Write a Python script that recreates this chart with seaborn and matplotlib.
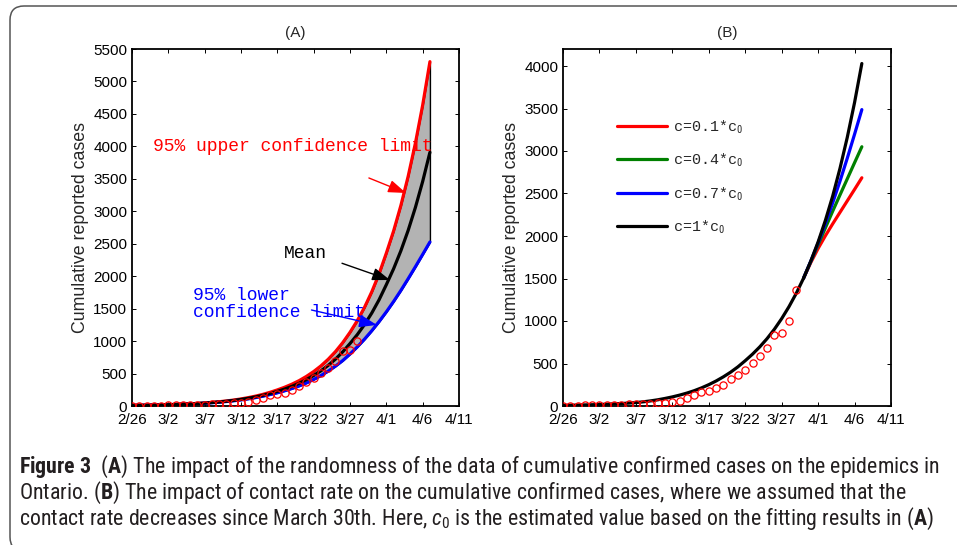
import matplotlib
matplotlib.use("Agg")
import matplotlib.pyplot as plt
from matplotlib import font_manager
from matplotlib.patches import FancyBboxPatch
from matplotlib.transforms import IdentityTransform
import pandas as pd
import seaborn as sns

W, H = 957, 545

# x axis: days since 2/26
tick_days = [0, 5, 10, 15, 20, 25, 30, 35, 40, 45]
tick_labels = ["2/26", "3/2", "3/7", "3/12", "3/17", "3/22", "3/27", "4/1", "4/6", "4/11"]

# reported cumulative cases (red circles), days 0..32
obs_cases = [4, 4, 5, 6, 7, 9, 11, 13, 15, 18, 20, 24, 28, 34, 41, 49, 61, 93, 130, 163,
             179, 207, 252, 313, 370, 427, 504, 593, 688, 840, 862, 1000, 1365]

# panel A: model curves, days 0..41
a_mean = [9, 11, 12, 15, 17, 20, 24, 28, 33, 38, 45, 53, 62, 73, 86, 101, 119, 140, 164, 193,
          225, 261, 302, 350, 406, 470, 542, 626, 722, 834, 962, 1099, 1255, 1433, 1636, 1869,
          2114, 2391, 2704, 3059, 3459, 3909]
a_upper = [9, 11, 12, 15, 17, 20, 25, 29, 34, 40, 47, 56, 66, 78, 92, 109, 129, 152, 179, 211,
           248, 289, 336, 391, 456, 531, 618, 720, 838, 976, 1135, 1314, 1521, 1760, 2035, 2355,
           2697, 3089, 3537, 4050, 4635, 5305]
a_lower = [9, 11, 12, 15, 17, 20, 23, 27, 32, 37, 43, 50, 59, 69, 80, 94, 110, 129, 151, 176,
           203, 234, 269, 309, 355, 409, 469, 537, 614, 700, 800, 910, 1030, 1160, 1300, 1450,
           1610, 1780, 1960, 2145, 2335, 2527]

# panel B: contact rate scenarios
b_base = [8, 9, 11, 13, 15, 18, 21, 25, 29, 34, 40, 49, 60, 73, 89, 107, 128, 152, 180, 213,
          251, 294, 343, 398, 461, 533, 610, 696, 793, 903, 1028, 1168, 1325, 1503, 1705, 1930,
          2184, 2470, 2795, 3160, 3570, 4029]
branch_days = [33, 34, 35, 36, 37, 38, 39, 40, 41]
b_c01 = [1503, 1688, 1853, 2003, 2143, 2278, 2413, 2548, 2685]
b_c04 = [1503, 1700, 1898, 2095, 2292, 2483, 2672, 2862, 3050]
b_c07 = [1503, 1705, 1918, 2148, 2390, 2645, 2915, 3197, 3487]

sns.set_theme(style="ticks")

# caption font: prefer a condensed sans if one is installed
fonts = font_manager.fontManager.ttflist
names = {f.name for f in fonts}
cap_font, cap_stretch = "Liberation Sans", "normal"
for cand in ["Noto Sans Condensed", "Roboto Condensed", "Open Sans Condensed",
             "Liberation Sans Narrow"]:
    if cand in names:
        cap_font = cand
        break
else:
    for fam in ["Noto Sans", "Open Sans", "DejaVu Sans"]:
        if any(f.name == fam and f.stretch == "condensed" for f in fonts):
            cap_font, cap_stretch = fam, "condensed"
            break

plt.rcParams["font.family"] = ["Liberation Sans", "DejaVu Sans"]
plt.rcParams.update({
    "xtick.direction": "in", "ytick.direction": "in",
    "xtick.top": True, "ytick.right": True,
    "xtick.major.size": 3, "ytick.major.size": 3,
    "xtick.major.width": 0.7, "ytick.major.width": 0.7,
    "axes.linewidth": 1.3, "axes.edgecolor": "black",
    "xtick.color": "black", "ytick.color": "black",
    "mathtext.fontset": "custom",
    "mathtext.rm": cap_font,
    "mathtext.it": cap_font + ":italic",
    "mathtext.bf": cap_font + ":bold",
})

fig = plt.figure(figsize=(W / 100, H / 100), dpi=100)
axA = fig.add_axes([132 / W, 1 - 406 / H, 327 / W, 357 / H])
axB = fig.add_axes([563 / W, 1 - 406 / H, 328 / W, 357 / H])

days = list(range(len(a_mean)))
obs_days = list(range(len(obs_cases)))
lw = 2.3
mono = "Liberation Mono"

# ---- panel A
axA.fill_between(days, a_lower, a_upper, facecolor="#b3b3b3", edgecolor="black", lw=1, zorder=1)
sns.lineplot(x=days, y=a_upper, color="#ff0000", lw=lw, ax=axA, zorder=2)
sns.lineplot(x=days, y=a_lower, color="#0000ff", lw=lw, ax=axA, zorder=2)
sns.lineplot(x=days, y=a_mean, color="black", lw=lw, ax=axA, zorder=3)
sns.lineplot(x=obs_days[:32], y=obs_cases[:32], marker="o", ls="none", ms=5.2,
             mfc="none", mec="#ff0000", mew=0.9, color="#ff0000", ax=axA, zorder=4)

arrow = dict(arrowstyle="-|>,head_length=0.9,head_width=0.32", lw=1, shrinkA=0, shrinkB=0)
axA.text(2.9, 4000, "95% upper confidence limit", color="#ff0000", family=mono,
         fontsize=13, va="center", ha="left")
axA.annotate("", xy=(37.7, 3282), xytext=(32.6, 3513),
             arrowprops=dict(arrow, color="#ff0000"))
axA.text(23.8, 2342, "Mean", color="black", family=mono, fontsize=13, va="center", ha="center")
axA.annotate("", xy=(35.5, 1941), xytext=(28.9, 2199), arrowprops=dict(arrow, color="black"))
axA.text(8.4, 1564, "95% lower\nconfidence limit", color="#0000ff", family=mono,
         fontsize=13, va="center", ha="left", linespacing=1.0)
axA.annotate("", xy=(33.7, 1248), xytext=(24.7, 1479), arrowprops=dict(arrow, color="#0000ff"))

axA.set_ylim(0, 5500)
axA.set_yticks(range(0, 5501, 500))
axA.set_title("(A)", fontsize=11, pad=9)

# ---- panel B
sns.lineplot(x=branch_days, y=b_c01, color="#ff0000", lw=lw, ax=axB, label="c=0.1*c$_0$")
sns.lineplot(x=branch_days, y=b_c04, color="#008000", lw=lw, ax=axB, label="c=0.4*c$_0$")
sns.lineplot(x=branch_days, y=b_c07, color="#0000ff", lw=lw, ax=axB, label="c=0.7*c$_0$")
sns.lineplot(x=days, y=b_base, color="black", lw=lw, ax=axB, label="c=1*c$_0$")
sns.lineplot(x=obs_days, y=obs_cases, marker="o", ls="none", ms=5.2,
             mfc="none", mec="#ff0000", mew=0.9, color="#ff0000", ax=axB, zorder=4)
axB.legend(loc="upper left", bbox_to_anchor=(0.165, 0.806), frameon=False, borderpad=0,
           borderaxespad=0, handlelength=3.33, handletextpad=0.4, labelspacing=1.07,
           prop={"family": mono, "size": 10.8})
axB.set_ylim(0, 4200)
axB.set_yticks(range(0, 4001, 500))
axB.set_title("(B)", fontsize=11, pad=9)

for ax in (axA, axB):
    ax.set_xlim(0, 45)
    ax.set_xticks(tick_days)
    ax.set_xticklabels(tick_labels)
    ax.tick_params(labelsize=11)
    ax.tick_params(axis="x", pad=5)
    ax.tick_params(axis="y", pad=3.5)
    ax.set_ylabel("Cumulative reported cases", fontsize=12.8, labelpad=3)
    ax.set_xlabel("")

# ---- caption and rounded frame
frame = FancyBboxPatch((10, -6), 1000, H, boxstyle="round,pad=0,rounding_size=14",
                       transform=IdentityTransform(), fill=False, ec="#555555", lw=1.1)
fig.add_artist(frame)

cap_lines = [
    r"$\mathbf{Figure\ 3}$  ($\mathbf{A}$) The impact of the randomness of the data of cumulative confirmed cases on the epidemics in",
    r"Ontario. ($\mathbf{B}$) The impact of contact rate on the cumulative confirmed cases, where we assumed that the",
    r"contact rate decreases since March 30th. Here, $c_0$ is the estimated value based on the fitting results in ($\mathbf{A}$)",
]
cap_y = [467, 493, 519]
caps = [fig.text(19 / W, 1 - y / H, s, family=cap_font, fontstretch=cap_stretch, fontsize=12,
                 va="center", ha="left", color="#231f20") for s, y in zip(cap_lines, cap_y)]
fig.canvas.draw()
wpx = caps[0].get_window_extent().width
for t in caps:
    t.set_fontsize(12 * 921 / wpx)

fig.savefig("out.png", dpi=100)
